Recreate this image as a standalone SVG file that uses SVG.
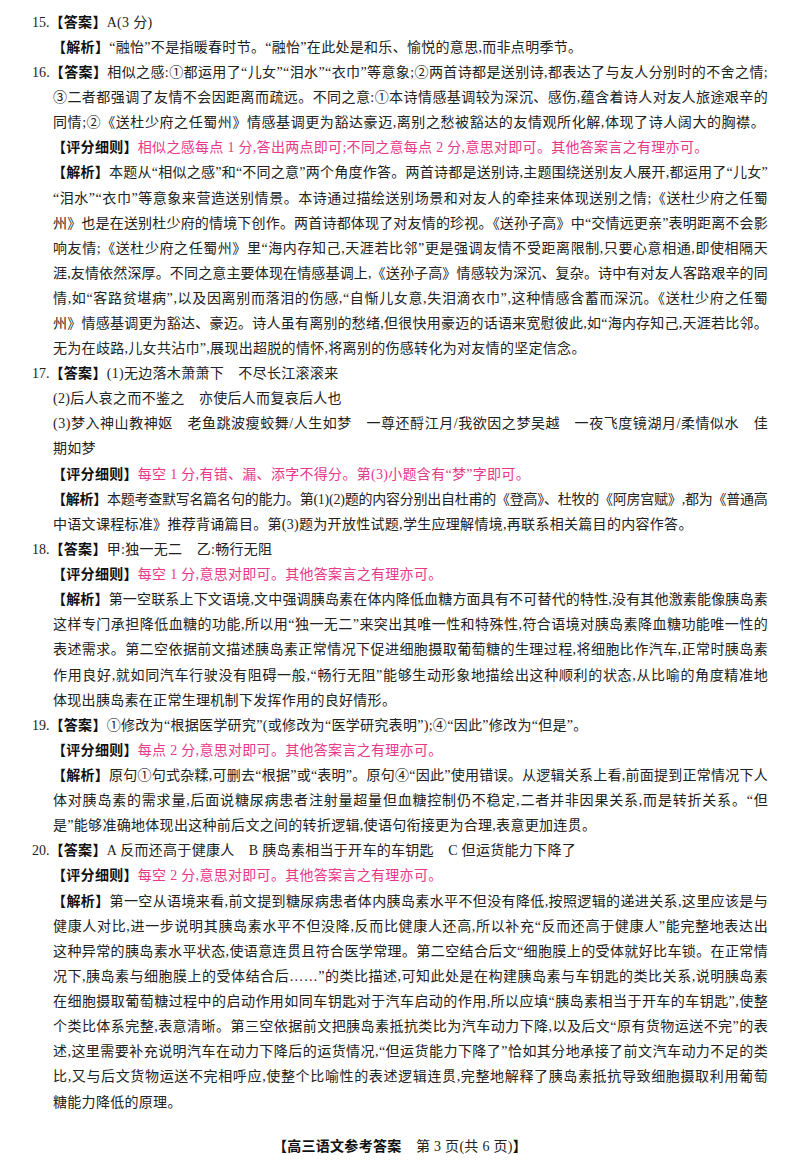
<svg xmlns="http://www.w3.org/2000/svg" width="800" height="1166" viewBox="0 0 800 1166">
<style>
text{font-family:"Liberation Serif","Noto Sans CJK SC",serif;font-size:14px;fill:#222;letter-spacing:0.3px}
.b{font-weight:bold;fill:#111}
.p{fill:#e8388a}
.n{letter-spacing:0}
</style>
<rect width="800" height="1166" fill="#fff"/>
<g id="q15">
<text x="32" y="27"><tspan class="n">15.</tspan><tspan class="b">【答案】</tspan>A(3 分)</text>
<text x="52" y="52"><tspan class="b">【解析】</tspan>“融怡”不是指暖春时节。“融怡”在此处是和乐、愉悦的意思,而非点明季节。</text>
</g>
<g id="q16">
<text x="32" y="77" textLength="736" lengthAdjust="spacing"><tspan class="n">16.</tspan><tspan class="b">【答案】</tspan>相似之感:①都运用了“儿女”“泪水”“衣巾”等意象;②两首诗都是送别诗,都表达了与友人分别时的不舍之情;</text>
<text x="53" y="102" textLength="715" lengthAdjust="spacing">③二者都强调了友情不会因距离而疏远。不同之意:①本诗情感基调较为深沉、感伤,蕴含着诗人对友人旅途艰辛的</text>
<text x="53" y="127" textLength="712" lengthAdjust="spacing">同情;②《送杜少府之任蜀州》情感基调更为豁达豪迈,离别之愁被豁达的友情观所化解,体现了诗人阔大的胸襟。</text>
<text x="52" y="152"><tspan class="b">【评分细则】</tspan><tspan class="p">相似之感每点 1 分,答出两点即可;不同之意每点 2 分,意思对即可。其他答案言之有理亦可。</tspan></text>
<text x="52" y="177" textLength="716" lengthAdjust="spacing"><tspan class="b">【解析】</tspan>本题从“相似之感”和“不同之意”两个角度作答。两首诗都是送别诗,主题围绕送别友人展开,都运用了“儿女”</text>
<text x="53" y="203" textLength="715" lengthAdjust="spacing">“泪水”“衣巾”等意象来营造送别情景。本诗通过描绘送别场景和对友人的牵挂来体现送别之情;《送杜少府之任蜀</text>
<text x="53" y="228" textLength="715" lengthAdjust="spacing">州》也是在送别杜少府的情境下创作。两首诗都体现了对友情的珍视。《送孙子高》中“交情远更亲”表明距离不会影</text>
<text x="53" y="253" textLength="715" lengthAdjust="spacing">响友情;《送杜少府之任蜀州》里“海内存知己,天涯若比邻”更是强调友情不受距离限制,只要心意相通,即使相隔天</text>
<text x="53" y="278" textLength="715" lengthAdjust="spacing">涯,友情依然深厚。不同之意主要体现在情感基调上,《送孙子高》情感较为深沉、复杂。诗中有对友人客路艰辛的同</text>
<text x="53" y="303" textLength="715" lengthAdjust="spacing">情,如“客路贫堪病”,以及因离别而落泪的伤感,“自惭儿女意,失泪滴衣巾”,这种情感含蓄而深沉。《送杜少府之任蜀</text>
<text x="53" y="328" textLength="715" lengthAdjust="spacing">州》情感基调更为豁达、豪迈。诗人虽有离别的愁绪,但很快用豪迈的话语来宽慰彼此,如“海内存知己,天涯若比邻。</text>
<text x="53" y="353">无为在歧路,儿女共沾巾”,展现出超脱的情怀,将离别的伤感转化为对友情的坚定信念。</text>
</g>
<g id="q17">
<text x="32" y="378"><tspan class="n">17.</tspan><tspan class="b">【答案】</tspan>(1)无边落木萧萧下　不尽长江滚滚来</text>
<text x="53" y="403">(2)后人哀之而不鉴之　亦使后人而复哀后人也</text>
<text x="53" y="428" textLength="715" lengthAdjust="spacing">(3)梦入神山教神妪　老鱼跳波瘦蛟舞/人生如梦　一尊还酹江月/我欲因之梦吴越　一夜飞度镜湖月/柔情似水　佳</text>
<text x="53" y="453">期如梦</text>
<text x="52" y="479"><tspan class="b">【评分细则】</tspan><tspan class="p">每空 1 分,有错、漏、添字不得分。第(3)小题含有“梦”字即可。</tspan></text>
<text x="52" y="504" textLength="716" lengthAdjust="spacing"><tspan class="b">【解析】</tspan>本题考查默写名篇名句的能力。第(1)(2)题的内容分别出自杜甫的《登高》、杜牧的《阿房宫赋》,都为《普通高</text>
<text x="53" y="529">中语文课程标准》推荐背诵篇目。第(3)题为开放性试题,学生应理解情境,再联系相关篇目的内容作答。</text>
</g>
<g id="q18">
<text x="32" y="554"><tspan class="n">18.</tspan><tspan class="b">【答案】</tspan>甲:独一无二　乙:畅行无阻</text>
<text x="52" y="579"><tspan class="b">【评分细则】</tspan><tspan class="p">每空 1 分,意思对即可。其他答案言之有理亦可。</tspan></text>
<text x="52" y="604" textLength="716" lengthAdjust="spacing"><tspan class="b">【解析】</tspan>第一空联系上下文语境,文中强调胰岛素在体内降低血糖方面具有不可替代的特性,没有其他激素能像胰岛素</text>
<text x="53" y="629" textLength="715" lengthAdjust="spacing">这样专门承担降低血糖的功能,所以用“独一无二”来突出其唯一性和特殊性,符合语境对胰岛素降血糖功能唯一性的</text>
<text x="53" y="654" textLength="715" lengthAdjust="spacing">表述需求。第二空依据前文描述胰岛素正常情况下促进细胞摄取葡萄糖的生理过程,将细胞比作汽车,正常时胰岛素</text>
<text x="53" y="680" textLength="715" lengthAdjust="spacing">作用良好,就如同汽车行驶没有阻碍一般,“畅行无阻”能够生动形象地描绘出这种顺利的状态,从比喻的角度精准地</text>
<text x="53" y="705">体现出胰岛素在正常生理机制下发挥作用的良好情形。</text>
</g>
<g id="q19">
<text x="32" y="730"><tspan class="n">19.</tspan><tspan class="b">【答案】</tspan>①修改为“根据医学研究”(或修改为“医学研究表明”);④“因此”修改为“但是”。</text>
<text x="52" y="755"><tspan class="b">【评分细则】</tspan><tspan class="p">每点 2 分,意思对即可。其他答案言之有理亦可。</tspan></text>
<text x="52" y="780" textLength="716" lengthAdjust="spacing"><tspan class="b">【解析】</tspan>原句①句式杂糅,可删去“根据”或“表明”。原句④“因此”使用错误。从逻辑关系上看,前面提到正常情况下人</text>
<text x="53" y="805" textLength="715" lengthAdjust="spacing">体对胰岛素的需求量,后面说糖尿病患者注射量超量但血糖控制仍不稳定,二者并非因果关系,而是转折关系。“但</text>
<text x="53" y="830">是”能够准确地体现出这种前后文之间的转折逻辑,使语句衔接更为合理,表意更加连贯。</text>
</g>
<g id="q20">
<text x="32" y="855"><tspan class="n">20.</tspan><tspan class="b">【答案】</tspan>A 反而还高于健康人　B 胰岛素相当于开车的车钥匙　C 但运货能力下降了</text>
<text x="52" y="880"><tspan class="b">【评分细则】</tspan><tspan class="p">每空 2 分,意思对即可。其他答案言之有理亦可。</tspan></text>
<text x="52" y="906" textLength="716" lengthAdjust="spacing"><tspan class="b">【解析】</tspan>第一空从语境来看,前文提到糖尿病患者体内胰岛素水平不但没有降低,按照逻辑的递进关系,这里应该是与</text>
<text x="53" y="931" textLength="715" lengthAdjust="spacing">健康人对比,进一步说明其胰岛素水平不但没降,反而比健康人还高,所以补充“反而还高于健康人”能完整地表达出</text>
<text x="53" y="956" textLength="715" lengthAdjust="spacing">这种异常的胰岛素水平状态,使语意连贯且符合医学常理。第二空结合后文“细胞膜上的受体就好比车锁。在正常情</text>
<text x="53" y="981" textLength="715" lengthAdjust="spacing">况下,胰岛素与细胞膜上的受体结合后……”的类比描述,可知此处是在构建胰岛素与车钥匙的类比关系,说明胰岛素</text>
<text x="53" y="1006" textLength="715" lengthAdjust="spacing">在细胞摄取葡萄糖过程中的启动作用如同车钥匙对于汽车启动的作用,所以应填“胰岛素相当于开车的车钥匙”,使整</text>
<text x="53" y="1031" textLength="715" lengthAdjust="spacing">个类比体系完整,表意清晰。第三空依据前文把胰岛素抵抗类比为汽车动力下降,以及后文“原有货物运送不完”的表</text>
<text x="53" y="1056" textLength="715" lengthAdjust="spacing">述,这里需要补充说明汽车在动力下降后的运货情况,“但运货能力下降了”恰如其分地承接了前文汽车动力不足的类</text>
<text x="53" y="1081" textLength="715" lengthAdjust="spacing">比,又与后文货物运送不完相呼应,使整个比喻性的表述逻辑连贯,完整地解释了胰岛素抵抗导致细胞摄取利用葡萄</text>
<text x="53" y="1107">糖能力降低的原理。</text>
</g>
<g id="footer">
<text x="400" y="1151" text-anchor="middle"><tspan class="b">【高三语文参考答案</tspan>　第 3 页(共 6 页)<tspan class="b">】</tspan></text>
</g>
</svg>
